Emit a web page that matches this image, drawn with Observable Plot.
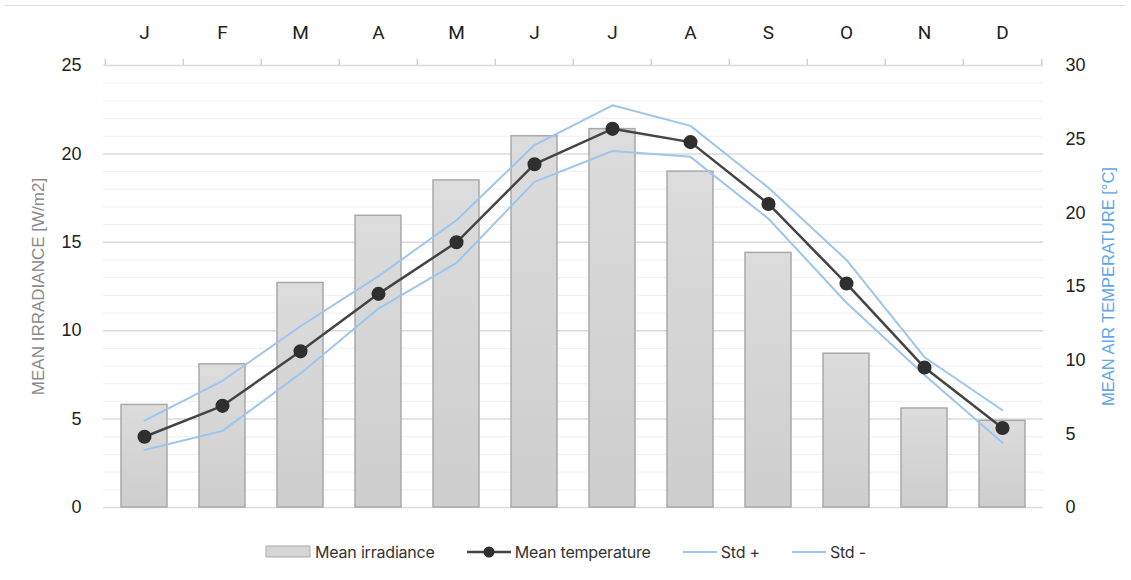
<!DOCTYPE html>
<html>
<head>
<meta charset="utf-8">
<script src="https://cdn.jsdelivr.net/npm/d3@7"></script>
<script src="https://cdn.jsdelivr.net/npm/@observablehq/plot@0.6"></script>
<style>
  html, body { margin: 0; padding: 0; background: #fff; }
  #wrap { position: relative; width: 1131px; height: 580px; overflow: hidden; }
  #topline { position: absolute; left: 5px; top: 5px; width: 1120px; height: 0; border-top: 1.5px solid #dcdcdc; }
  #chart { position: absolute; left: 0; top: 0; }
  #legend { position: absolute; left: 0; top: 540px; width: 1131px; height: 24px;
    display: flex; justify-content: center; align-items: center; gap: 0;
    font-family: Inter, "Noto Sans", sans-serif; font-size: 16px; color: #333; letter-spacing: -0.2px; }
  .item { display: flex; align-items: center; margin: 0 16px; }
  .item svg { margin-right: 4px; }
</style>
</head>
<body>
<div id="wrap">
  <div id="topline"></div>
  <div id="chart"></div>
  <div id="legend"></div>
</div>
<script>
const months = ["Jan","Feb","Mar","Apr","May","Jun","Jul","Aug","Sep","Oct","Nov","Dec"];
const monthLabels = ["J","F","M","A","M","J","J","A","S","O","N","D"];
const irradiance = [5.8, 8.1, 12.7, 16.5, 18.5, 21.0, 21.4, 19.0, 14.4, 8.7, 5.6, 4.9];
const temperature = [4.8, 6.9, 10.6, 14.5, 18.0, 23.3, 25.7, 24.8, 20.6, 15.2, 9.5, 5.4];
const stdPlus = [5.9, 8.6, 12.3, 15.7, 19.5, 24.6, 27.3, 25.9, 21.7, 16.8, 10.2, 6.6];
const stdMinus = [3.9, 5.2, 9.1, 13.5, 16.6, 22.1, 24.2, 23.8, 19.6, 13.9, 9.0, 4.4];
const leftTicks = [0, 5, 10, 15, 20, 25];
const rightTicks = [0, 5, 10, 15, 20, 25, 30];
const leftMax = 25, rightMax = 30;

const toLeft = v => v * leftMax / rightMax;
const rows = months.map((m, i) => ({
  month: m, irr: irradiance[i],
  temp: toLeft(temperature[i]), plus: toLeft(stdPlus[i]), minus: toLeft(stdMinus[i])
}));
const minor = d3.range(0, leftMax + 1).filter(v => v % 5 !== 0);
const step = (1043 - 103) / months.length;

const blue = "#9cc6ee";
const plot = Plot.plot({
  width: 1131, height: 520,
  marginTop: 65, marginBottom: 13, marginLeft: 103, marginRight: 88,
  style: { fontFamily: "'Liberation Sans', Arial, sans-serif", fontSize: "18px", color: "#222", background: "transparent" },
  x: { type: "band", domain: months, paddingInner: 0.41, paddingOuter: 0.205, axis: null },
  y: { domain: [0, leftMax], axis: null },
  marks: [
    Plot.ruleY(minor, { stroke: "#efefef", strokeWidth: 1 }),
    Plot.ruleY(leftTicks, { stroke: "#dadada", strokeWidth: 1.5 }),
    Plot.ruleX(months, { x: d => d, y1: leftMax, y2: leftMax + 0.35, dx: -step / 2, stroke: "#d0d0d0", strokeWidth: 1.5 }),
    Plot.ruleX(months.slice(-1), { x: d => d, y1: leftMax, y2: leftMax + 0.35, dx: step / 2, stroke: "#d0d0d0", strokeWidth: 1.5 }),
    Plot.barY(rows, { x: "month", y: "irr", fill: "url(#barGrad)", stroke: "#a9a9a9", strokeWidth: 1.5 }),
    Plot.line(rows, { x: "month", y: "plus", stroke: blue, strokeWidth: 2 }),
    Plot.line(rows, { x: "month", y: "minus", stroke: blue, strokeWidth: 2 }),
    Plot.line(rows, { x: "month", y: "temp", stroke: "#444", strokeWidth: 2.5 }),
    Plot.dot(rows, { x: "month", y: "temp", r: 6.3, fill: "#2f2f2f", stroke: "#2f2f2f" }),
    Plot.axisX({ anchor: "top", domain: months, tickSize: 0, tickPadding: 27, tickFormat: d => monthLabels[months.indexOf(d)], fontFamily: "Roboto, sans-serif", fontSize: 19, label: null }),
    Plot.axisY({ anchor: "left", ticks: leftTicks, tickSize: 0, tickPadding: 22, label: null }),
    Plot.axisY({ anchor: "right", ticks: rightTicks.map(toLeft), tickSize: 0, tickPadding: 22, tickFormat: d => String(Math.round(d * rightMax / leftMax)), label: null }),
    Plot.text(["MEAN IRRADIANCE [W/m2]"], { frameAnchor: "left", textAnchor: "middle", dx: -65, rotate: -90, fill: "#8a8a8a", fontSize: 17, fontFamily: "'Liberation Sans', Arial, sans-serif" }),
    Plot.text(["MEAN AIR TEMPERATURE [°C]"], { frameAnchor: "right", textAnchor: "middle", dx: 65, rotate: -90, fill: "#5fa6ea", fontSize: 16.5, fontFamily: "'Liberation Sans', Arial, sans-serif" })
  ]
});
// gradient for bars
const ns = "http://www.w3.org/2000/svg";
const defs = document.createElementNS(ns, "defs");
defs.innerHTML = '<linearGradient id="barGrad" x1="0" y1="0" x2="0" y2="1"><stop offset="0" stop-color="#dcdcdc"/><stop offset="1" stop-color="#cdcdcd"/></linearGradient>';
plot.insertBefore(defs, plot.firstChild);
document.getElementById("chart").appendChild(plot);

// legend
const legendItems = [
  { label: "Mean irradiance", kind: "bar" },
  { label: "Mean temperature", kind: "dotline" },
  { label: "Std +", kind: "line" },
  { label: "Std -", kind: "line" }
];
const legend = d3.select("#legend");
legendItems.forEach(it => {
  const item = legend.append("div").attr("class", "item");
  const w = it.kind === "bar" ? 46 : (it.kind === "dotline" ? 44 : 34);
  const s = item.append("svg").attr("width", w).attr("height", 16);
  if (it.kind === "bar") {
    s.append("rect").attr("x", 1).attr("y", 2).attr("width", 44).attr("height", 11).attr("fill", "#d6d6d6").attr("stroke", "#a9a9a9").attr("stroke-width", 1);
  } else if (it.kind === "dotline") {
    s.append("line").attr("x1", 0).attr("x2", 44).attr("y1", 8).attr("y2", 8).attr("stroke", "#444").attr("stroke-width", 2.5);
    s.append("circle").attr("cx", 22).attr("cy", 8).attr("r", 5.5).attr("fill", "#2f2f2f");
  } else {
    s.append("line").attr("x1", 0).attr("x2", 34).attr("y1", 8).attr("y2", 8).attr("stroke", blue).attr("stroke-width", 2);
  }
  item.append("span").text(it.label);
});
</script>
</body>
</html>
